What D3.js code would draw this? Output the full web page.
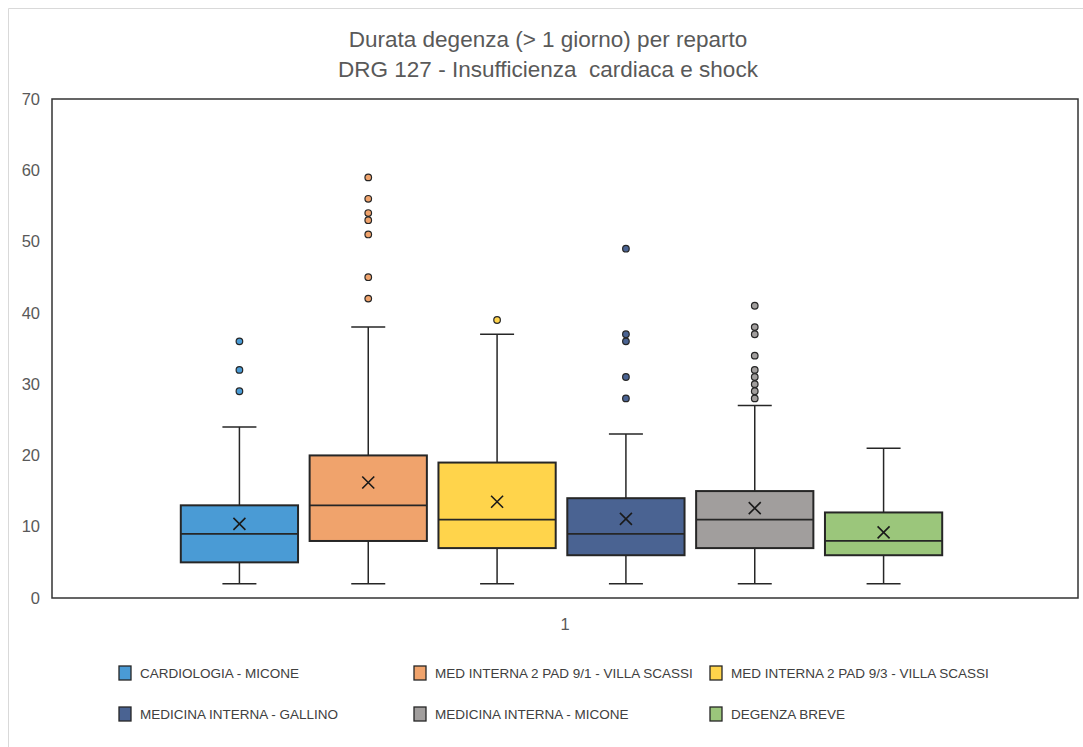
<!DOCTYPE html>
<html><head><meta charset="utf-8">
<script src="https://cdn.jsdelivr.net/npm/d3@7"></script>
<style>
html,body{margin:0;padding:0;background:#fff;}
svg{display:block;}
</style></head>
<body>
<svg id="c" width="1083" height="747"></svg>
<script>
// ---- data ----
const categories = ["CARDIOLOGIA - MICONE","MED INTERNA 2 PAD 9/1 - VILLA SCASSI","MED INTERNA 2 PAD 9/3 - VILLA SCASSI","MEDICINA INTERNA - GALLINO","MEDICINA INTERNA - MICONE","DEGENZA BREVE"];
const whiskerLow  = [2, 2, 2, 2, 2, 2];
const q1          = [5, 8, 7, 6, 7, 6];
const median      = [9, 13, 11, 9, 11, 8];
const q3          = [13, 20, 19, 14, 15, 12];
const whiskerHigh = [24, 38, 37, 23, 27, 21];
const means       = [10.4, 16.2, 13.5, 11.1, 12.6, 9.2];
const outliers    = [[29,32,36],[42,45,51,53,54,56,59],[39],[28,31,36,37,49],[28,29,30,31,32,34,37,38,41],[]];
const yTicks = [0,10,20,30,40,50,60,70];
const xLabels = ["1"];
const colors = ["#4a9bd5","#f0a36c","#ffd44b","#4a6392","#a19e9d","#9bc67b"];

const titleLines = ["Durata degenza (> 1 giorno) per reparto","DRG 127 - Insufficienza  cardiaca e shock"];

const svg = d3.select("#c");
const font = "'Liberation Sans Narrow','Arial Narrow','Liberation Sans',sans-serif";

// chart area outline
svg.append("path").attr("d","M8.5,747 V8.5 H1083").attr("fill","none").attr("stroke","#d9d9d9").attr("stroke-width",1);

// plot geometry
const L = 52, R = 1078, T = 99, B = 598;
const y = d3.scaleLinear().domain([0,70]).range([B,T]);
const xOuter = d3.scaleBand().domain(xLabels).range([L,R]);
const x = d3.scaleBand().domain(categories).range([175,948]).paddingInner(0.09).paddingOuter(0.045);

// title
svg.append("g").selectAll("text").data(titleLines).join("text")
  .attr("x",548).attr("y",(d,i)=>47+i*30)
  .attr("text-anchor","middle").attr("fill","#595959")
  .attr("font-family",font).attr("font-size",22.5)
  .attr("xml:space","preserve").style("white-space","pre").text(d=>d);

// y axis
const yAxis = svg.append("g").attr("transform",`translate(${L},0)`)
  .call(d3.axisLeft(y).tickValues(yTicks).tickSize(0).tickPadding(12));
yAxis.select(".domain").remove();
yAxis.selectAll("text").attr("fill","#595959").attr("font-family",font).attr("font-size",16.5);

// x axis label
const xAxis = svg.append("g").attr("transform",`translate(0,${B})`)
  .call(d3.axisBottom(xOuter).tickSize(0).tickPadding(20));
xAxis.select(".domain").remove();
xAxis.selectAll("text").attr("fill","#595959").attr("font-family",font).attr("font-size",16.5);

// boxes
const g = svg.append("g");
const bw = x.bandwidth();
categories.forEach((c,i)=>{
  const cx = x(c) + bw/2;
  const gg = g.append("g");
  const stroke = "#262626";
  // whiskers
  gg.append("line").attr("x1",cx).attr("x2",cx).attr("y1",y(q3[i])).attr("y2",y(whiskerHigh[i])).attr("stroke",stroke).attr("stroke-width",1.5);
  gg.append("line").attr("x1",cx).attr("x2",cx).attr("y1",y(q1[i])).attr("y2",y(whiskerLow[i])).attr("stroke",stroke).attr("stroke-width",1.5);
  gg.append("line").attr("x1",cx-17).attr("x2",cx+17).attr("y1",y(whiskerHigh[i])).attr("y2",y(whiskerHigh[i])).attr("stroke",stroke).attr("stroke-width",1.5);
  gg.append("line").attr("x1",cx-17).attr("x2",cx+17).attr("y1",y(whiskerLow[i])).attr("y2",y(whiskerLow[i])).attr("stroke",stroke).attr("stroke-width",1.5);
  // box
  gg.append("rect").attr("x",x(c)).attr("width",bw).attr("y",y(q3[i])).attr("height",y(q1[i])-y(q3[i]))
    .attr("fill",colors[i]).attr("stroke",stroke).attr("stroke-width",2);
  gg.append("line").attr("x1",x(c)).attr("x2",x(c)+bw).attr("y1",y(median[i])).attr("y2",y(median[i])).attr("stroke",stroke).attr("stroke-width",1.8);
  // mean marker
  const my = y(means[i]), s = 6;
  gg.append("path").attr("d",`M${cx-s},${my-s}L${cx+s},${my+s}M${cx-s},${my+s}L${cx+s},${my-s}`).attr("stroke","#1a1a1a").attr("stroke-width",1.6).attr("fill","none");
  // outliers
  gg.selectAll("circle").data(outliers[i]).join("circle")
    .attr("cx",cx).attr("cy",d=>y(d)).attr("r",3.3)
    .attr("fill",colors[i]).attr("stroke","#262626").attr("stroke-width",1.2);
});

// plot frame
svg.append("rect").attr("x",L).attr("y",T).attr("width",R-L).attr("height",B-T)
  .attr("fill","none").attr("stroke","#333").attr("stroke-width",1.5);

// legend
const legX = [119, 414, 710], legY = [673, 714];
const leg = svg.append("g").selectAll("g").data(categories).join("g")
  .attr("transform",(d,i)=>`translate(${legX[i%3]},${legY[Math.floor(i/3)]})`);
leg.append("rect").attr("x",0).attr("y",-7).attr("width",12).attr("height",14)
  .attr("fill",(d,i)=>colors[i]).attr("stroke","#262626").attr("stroke-width",1.3);
leg.append("text").attr("x",21).attr("y",5).attr("fill","#404040")
  .attr("font-family",font).attr("font-size",13.5).text(d=>d);
</script>
</body></html>
